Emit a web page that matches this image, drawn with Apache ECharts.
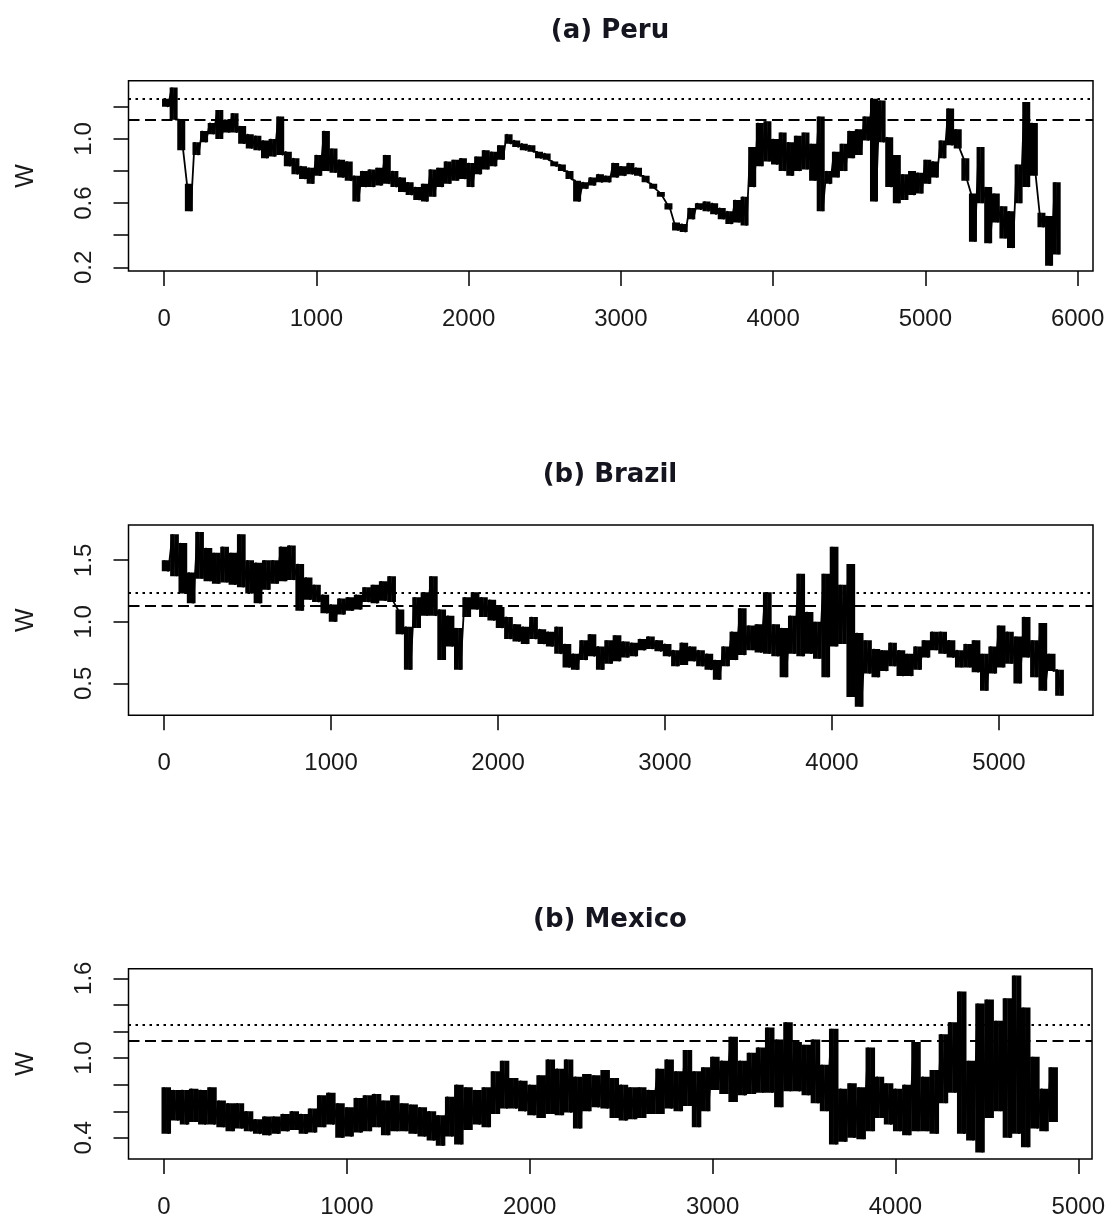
<!DOCTYPE html>
<html lang="en">
<head>
    <meta charset="UTF-8">
    <title>W series</title>
    <style>
        html, body {margin: 0; padding: 0; background: #fff;}
        #chart {width: 1108px; height: 1220px;}
    </style>
</head>
<body>
<div id="chart"></div>
<script type="text/javascript" src="https://cdn.jsdelivr.net/npm/echarts/dist/echarts.min.js"></script>
<script>
    // W every 50 steps: upper and lower edge of the noisy band
    var step = 50;

    var peruHi = [1.25,1.32,1.12,0.72,0.98,1.05,1.10,1.18,1.12,1.16,
        1.08,1.03,1.02,0.99,1.00,1.14,0.92,0.88,0.83,0.82,
        0.90,1.05,0.94,0.87,0.86,0.77,0.80,0.81,0.82,0.90,
        0.80,0.76,0.73,0.70,0.72,0.81,0.82,0.86,0.87,0.88,
        0.85,0.89,0.93,0.92,0.96,1.03,0.99,0.97,0.96,0.92,
        0.91,0.86,0.84,0.80,0.74,0.73,0.76,0.78,0.77,0.85,
        0.83,0.85,0.82,0.77,0.72,0.67,0.60,0.48,0.47,0.57,
        0.60,0.61,0.60,0.57,0.55,0.62,0.64,0.95,1.10,1.11,
        1.00,1.04,0.98,1.02,1.04,0.97,1.14,0.80,0.92,0.97,
        1.05,1.06,1.14,1.25,1.24,1.01,0.90,0.78,0.80,0.79,
        0.87,0.86,0.99,1.19,1.06,0.88,0.66,0.95,0.70,0.66,
        0.58,0.55,0.84,1.23,1.10,0.54,0.52,0.73];
    var peruLo = [1.20,1.12,0.93,0.55,0.90,0.98,1.03,1.00,1.04,1.04,
        0.97,0.94,0.93,0.88,0.89,0.90,0.83,0.78,0.75,0.72,
        0.77,0.80,0.79,0.76,0.74,0.61,0.70,0.70,0.71,0.72,
        0.70,0.67,0.65,0.62,0.61,0.64,0.70,0.72,0.74,0.75,
        0.70,0.78,0.81,0.83,0.87,0.97,0.95,0.93,0.92,0.88,
        0.87,0.83,0.80,0.75,0.61,0.69,0.71,0.73,0.73,0.76,
        0.77,0.78,0.77,0.73,0.69,0.64,0.56,0.43,0.42,0.50,
        0.56,0.55,0.53,0.50,0.47,0.48,0.46,0.70,0.83,0.86,
        0.84,0.80,0.77,0.80,0.81,0.74,0.55,0.72,0.76,0.80,
        0.88,0.90,0.99,0.61,0.98,0.70,0.60,0.62,0.65,0.66,
        0.72,0.76,0.88,0.96,0.94,0.74,0.36,0.60,0.35,0.48,
        0.38,0.32,0.60,0.70,0.77,0.45,0.21,0.28];

    var brazilHi = [1.50,1.71,1.64,1.40,1.73,1.60,1.56,1.61,1.56,1.71,
        1.50,1.48,1.50,1.50,1.61,1.62,1.47,1.36,1.30,1.22,
        1.14,1.19,1.20,1.22,1.28,1.30,1.33,1.37,1.10,0.96,
        1.20,1.24,1.37,1.10,1.05,0.95,1.20,1.24,1.20,1.18,
        1.12,1.04,0.98,0.96,1.04,0.94,0.92,0.96,0.82,0.74,
        0.85,0.90,0.80,0.85,0.89,0.84,0.83,0.86,0.88,0.85,
        0.82,0.77,0.83,0.80,0.77,0.74,0.69,0.80,0.92,1.11,
        0.97,0.98,1.24,0.98,0.95,1.05,1.39,1.08,1.00,1.39,
        1.61,1.30,1.47,0.91,0.85,0.78,0.77,0.83,0.77,0.74,
        0.80,0.85,0.92,0.92,0.85,0.77,0.82,0.85,0.74,0.80,
        0.97,0.92,0.88,1.04,0.85,0.99,0.74,0.61];
    var brazilLo = [1.41,1.37,1.23,1.15,1.35,1.33,1.31,1.32,1.30,1.28,
        1.23,1.15,1.26,1.31,1.33,1.34,1.09,1.18,1.16,1.07,
        1.00,1.06,1.09,1.10,1.16,1.15,1.17,1.16,0.90,0.61,
        0.95,1.05,1.05,0.69,0.80,0.61,1.04,1.10,1.04,1.01,
        0.95,0.86,0.84,0.82,0.86,0.82,0.80,0.74,0.63,0.61,
        0.69,0.72,0.61,0.66,0.68,0.71,0.72,0.77,0.78,0.76,
        0.72,0.64,0.65,0.68,0.64,0.61,0.53,0.64,0.69,0.73,
        0.77,0.75,0.74,0.72,0.55,0.74,0.72,0.74,0.70,0.55,
        0.80,0.82,0.39,0.31,0.58,0.55,0.60,0.64,0.56,0.56,
        0.61,0.71,0.77,0.74,0.71,0.63,0.63,0.59,0.44,0.58,
        0.63,0.66,0.50,0.71,0.55,0.44,0.60,0.40];

    var mexicoHi = [0.78,0.76,0.76,0.77,0.76,0.78,0.68,0.66,0.66,0.60,
        0.54,0.56,0.56,0.58,0.60,0.58,0.62,0.72,0.74,0.66,
        0.63,0.70,0.72,0.73,0.68,0.72,0.66,0.65,0.63,0.60,
        0.57,0.71,0.80,0.78,0.76,0.78,0.90,0.98,0.85,0.83,
        0.80,0.87,0.99,0.92,0.99,0.86,0.88,0.87,0.91,0.85,
        0.80,0.78,0.78,0.76,0.92,0.99,0.90,1.06,0.90,0.93,
        1.01,0.98,1.16,0.98,1.04,1.08,1.23,1.14,1.27,1.12,
        1.10,1.14,0.95,1.22,0.77,0.81,0.78,1.08,0.86,0.81,
        0.77,0.80,1.12,0.86,0.91,1.18,1.27,1.50,0.98,1.41,
        1.44,1.28,1.45,1.62,1.38,1.01,0.77,0.93];
    var mexicoLo = [0.43,0.53,0.50,0.52,0.50,0.50,0.48,0.45,0.47,0.45,
        0.43,0.42,0.43,0.45,0.46,0.43,0.44,0.48,0.50,0.40,
        0.41,0.44,0.45,0.48,0.42,0.45,0.45,0.43,0.41,0.38,
        0.34,0.41,0.35,0.46,0.50,0.48,0.58,0.62,0.62,0.60,
        0.57,0.55,0.58,0.57,0.59,0.47,0.60,0.63,0.62,0.55,
        0.53,0.54,0.55,0.58,0.58,0.62,0.60,0.64,0.48,0.60,
        0.76,0.73,0.67,0.72,0.73,0.74,0.74,0.63,0.75,0.75,
        0.72,0.66,0.60,0.35,0.37,0.40,0.39,0.45,0.55,0.50,
        0.45,0.42,0.45,0.45,0.43,0.66,0.74,0.43,0.38,0.29,
        0.55,0.60,0.40,0.43,0.33,0.47,0.45,0.52];

    // reference lines (dotted and dashed) for each panel
    var dottedLevel = [1.254, 1.239, 1.252];
    var dashedLevel = [1.118, 1.128, 1.128];

    var titles = ['(a) Peru', '(b) Brazil', '(b) Mexico'];
    var xTicks = [
        [0, 1000, 2000, 3000, 4000, 5000, 6000],
        [0, 1000, 2000, 3000, 4000, 5000],
        [0, 1000, 2000, 3000, 4000, 5000]
    ];
    var yTicks = [
        [0.2, 0.4, 0.6, 0.8, 1.0, 1.2],
        [0.5, 1.0, 1.5],
        [0.4, 0.6, 0.8, 1.0, 1.2, 1.4, 1.6]
    ];
    var yLabels = [
        [0.2, 0.6, 1.0],
        [0.5, 1.0, 1.5],
        [0.4, 1.0, 1.6]
    ];
    var xRange = [[-234, 6101], [-213, 5563], [-194, 5075]];
    var yRange = [[0.177, 1.363], [0.241, 1.786], [0.241, 1.672]];

    // panel boxes (px)
    var boxLeft = 128.5, boxWidth = 964.5;
    var boxTop = [80.7, 525, 968.7];
    var boxHeight = 190.3;
    var titleTop = [18, 462, 907];

    // jagged trace: upper reading, then lower reading half a step later
    function trace(hi, lo) {
        var pts = [];
        for (var i = 0; i < hi.length; i++) {
            pts.push([i * step, hi[i]]);
            pts.push([i * step + step / 2, lo[i]]);
        }
        return pts;
    }
    // a dark column for each reading pair, so the band reads as solid as the original
    function strokes(hi, lo) {
        var rows = [];
        for (var i = 0; i < hi.length; i++) {
            rows.push([i * step, lo[i], hi[i]]);
            rows.push([i * step + step / 2, lo[i], hi[i]]);
        }
        return rows;
    }
    function renderStroke(params, api) {
        var top = api.coord([api.value(0), api.value(2)]);
        var bot = api.coord([api.value(0), api.value(1)]);
        var w = api.size([step / 2, 0])[0] + 0.4;
        return {
            type: 'rect',
            shape: {x: top[0] - w / 2, y: top[1], width: w, height: bot[1] - top[1]},
            style: {fill: '#000'}
        };
    }

    var his = [peruHi, brazilHi, mexicoHi];
    var los = [peruLo, brazilLo, mexicoLo];

    var tickFont = {fontFamily: 'Liberation Sans, Arial, sans-serif', fontSize: 24, color: '#1a1a1a'};
    var option = {
        backgroundColor: '#fff',
        animation: false,
        title: [],
        grid: [],
        xAxis: [],
        yAxis: [],
        series: []
    };

    for (var k = 0; k < 3; k++) {
        option.title.push({
            text: titles[k],
            left: 610,
            top: titleTop[k],
            textAlign: 'center',
            padding: 0,
            textStyle: {fontFamily: 'DejaVu Sans, sans-serif', fontWeight: 'bold', fontSize: 26, color: '#15151f'}
        });
        option.grid.push({
            left: boxLeft, top: boxTop[k], width: boxWidth, height: boxHeight,
            show: true, borderColor: '#000', borderWidth: 1.5, backgroundColor: 'transparent'
        });
        option.xAxis.push({
            type: 'value', gridIndex: k,
            min: xRange[k][0], max: xRange[k][1],
            axisLine: {show: false, onZero: false},
            splitLine: {show: false},
            axisTick: {show: true, length: 15, customValues: xTicks[k], lineStyle: {color: '#000', width: 1.5}},
            axisLabel: {
                customValues: xTicks[k], margin: 36,
                fontFamily: tickFont.fontFamily, fontSize: tickFont.fontSize, color: tickFont.color,
                formatter: function (v) { return String(v); }
            }
        });
        option.yAxis.push({
            type: 'value', gridIndex: k,
            min: yRange[k][0], max: yRange[k][1],
            name: 'W', nameLocation: 'middle', nameRotate: 90, nameGap: 90,
            nameTextStyle: {fontFamily: tickFont.fontFamily, fontSize: 25, color: '#1a1a1a'},
            axisLine: {show: false, onZero: false},
            splitLine: {show: false},
            axisTick: {show: true, length: 15, customValues: yTicks[k], lineStyle: {color: '#000', width: 1.5}},
            axisLabel: {
                customValues: yLabels[k], rotate: 90, margin: 32,
                fontFamily: tickFont.fontFamily, fontSize: tickFont.fontSize, color: tickFont.color,
                formatter: function (v) { return Number(v).toFixed(1); }
            }
        });
        option.series.push({
            type: 'custom',
            xAxisIndex: k, yAxisIndex: k,
            data: strokes(his[k], los[k]),
            encode: {x: 0, y: [1, 2]},
            renderItem: renderStroke,
            clip: true,
            silent: true
        });
        option.series.push({
            type: 'line',
            xAxisIndex: k, yAxisIndex: k,
            data: trace(his[k], los[k]),
            showSymbol: false, symbol: 'none',
            lineStyle: {color: '#000', width: 1.8},
            markLine: {
                silent: true, symbol: ['none', 'none'],
                label: {show: false},
                lineStyle: {color: '#000', width: 1.8},
                data: [
                    {yAxis: dottedLevel[k], lineStyle: {type: [2.5, 4.5]}},
                    {yAxis: dashedLevel[k], lineStyle: {type: [11, 5.5]}}
                ]
            }
        });
    }

    var chart = echarts.init(document.getElementById('chart'));
    chart.setOption(option);
</script>
</body>
</html>
